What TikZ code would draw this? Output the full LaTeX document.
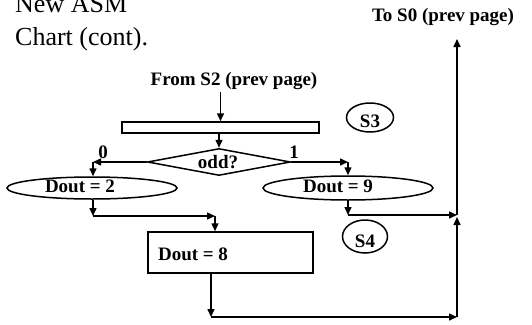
\documentclass[tikz,border=0pt]{standalone}
\usepackage{fontspec}
\setmainfont{Liberation Serif}
\usetikzlibrary{arrows.meta,shapes.geometric}
\begin{document}
\begin{tikzpicture}[x=1pt,y=-1pt,
  ln/.style={line width=1.5pt},
  arr/.style={ln,-{Triangle[length=8pt,width=7pt]}},
  shp/.style={draw,ln,inner sep=0pt},
  btxt/.style={font=\fontsize{19}{22}\selectfont\bfseries,inner sep=0pt,anchor=base},
  ttl/.style={font=\fontsize{26}{32}\selectfont,inner sep=0pt,anchor=base west}]
\useasboundingbox (0,0) rectangle (532,324);
% title
\node[ttl] (t1) at (15,12.7) {New ASM};
\node[ttl] (t2) at (15,45) {Chart (cont).};
% texts
\node[btxt] (from) at (234,85) {From S2 (prev page)};
\node[btxt] (to) at (443,21) {To S0 (prev page)};
% shapes
\node[shp,rectangle,minimum width=197pt,minimum height=11pt] (state) at (220.5,127.5) {};
\node[shp,diamond,aspect=5.3,minimum width=143pt,minimum height=27pt] (dia) at (219,162) {};
\node[btxt] (odd) at (218,168) {odd?};
\node[shp,ellipse,minimum width=170pt,minimum height=22pt] (e2) at (92,188) {};
\node[btxt] (e2t) at (80,192) {Dout = 2};
\node[shp,ellipse,minimum width=170pt,minimum height=24pt] (e9) at (348,188) {};
\node[btxt] (e9t) at (338,192) {Dout = 9};
\node[shp,rectangle,minimum width=165pt,minimum height=41pt] (r8) at (230.5,252.5) {};
\node[btxt] (r8t) at (193,260) {Dout = 8};
\node[shp,ellipse,minimum width=47pt,minimum height=29pt] (s3) at (370,117.5) {};
\node[btxt] (s3t) at (370,127) {S3};
\node[shp,ellipse,minimum width=45pt,minimum height=33pt] (s4) at (365,236.5) {};
\node[btxt] (s4t) at (365,247) {S4};
\node[btxt] (l0) at (103,158) {0};
\node[btxt] (l1) at (294,158) {1};
% coordinates
\coordinate (fromend) at (220.5,92);
\coordinate (lc) at (93,162);
\coordinate (rc) at (348,162);
\coordinate (b2) at (93,216);
\coordinate (b2r) at (215,216);
\coordinate (b9) at (348,215);
\coordinate (vr) at (457,215);
\coordinate (b8) at (211,317);
\coordinate (br) at (457,317);
\coordinate (top) at (457,39);
% connectors
\draw[arr] (fromend) -- (state.north -| fromend);
\draw[arr] (state.south -| dia.north) -- (dia.north);
\draw[arr] (dia.west) -- (lc);
\draw[arr] (lc) -- (e2.north -| lc);
\draw[arr] (dia.east) -- (rc);
\draw[arr] (rc) -- (e9.north);
\draw[arr] (e2.south -| b2) -- (b2);
\draw[arr] (b2) -- (b2r);
\draw[arr] (b2r) -- (r8.north -| b2r);
\draw[arr] (e9.south) -- (b9);
\draw[arr] (b9) -- (vr);
\draw[arr] (r8.south -| b8) -- (b8);
\draw[arr] (b8) -- (br);
\draw[arr] (br) -- ([yshift=-2pt]vr);
\draw[arr] (vr) -- (top);
\end{tikzpicture}
\end{document}
